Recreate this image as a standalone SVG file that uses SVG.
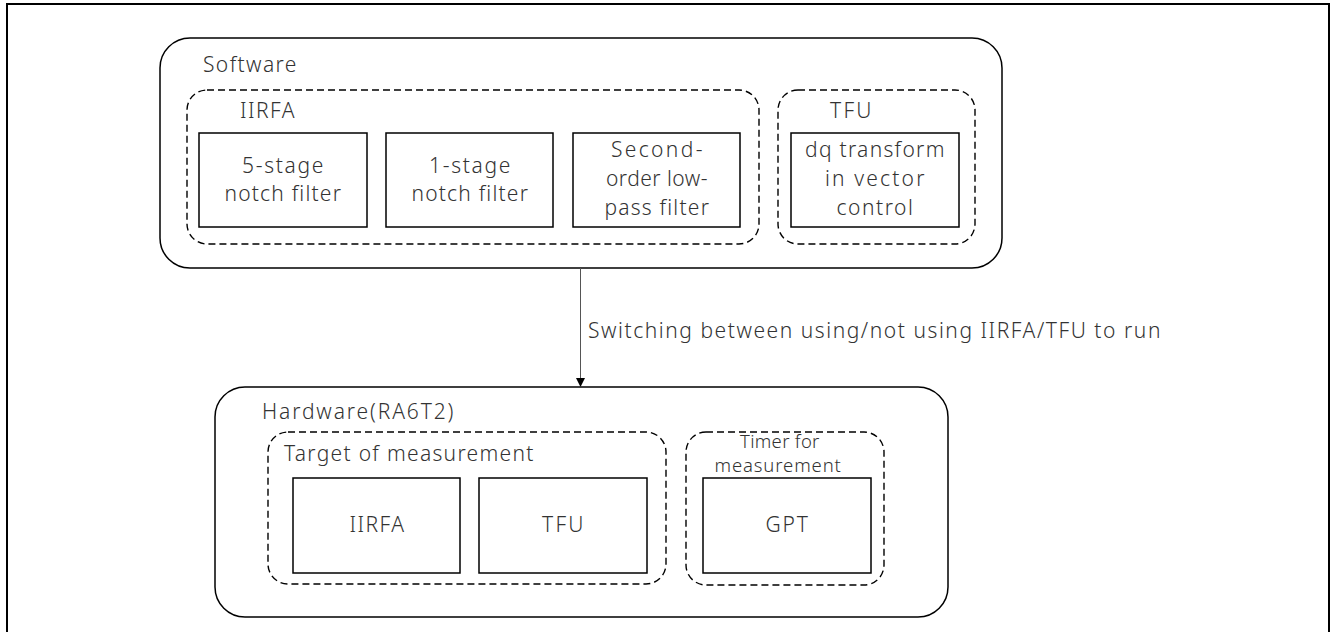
<svg xmlns="http://www.w3.org/2000/svg" width="1330" height="632" viewBox="0 0 1330 632">
<defs>
<style>
.frame{fill:none;stroke:#000;stroke-width:2}
.outer{fill:#fff;stroke:#000;stroke-width:1.5}
.dash{fill:none;stroke:#000;stroke-width:1.4;stroke-dasharray:7 4}
.box{fill:#fff;stroke:#000;stroke-width:1.5}
text{font-family:"Noto Sans","DejaVu Sans",sans-serif;fill:#333;font-weight:300;letter-spacing:0.6px}
.t20{font-size:21px}
.t17{font-size:18.5px}
.c{text-anchor:middle}
.conn{stroke:#555;stroke-width:1;fill:none}
</style>
<marker id="arrow" viewBox="0 0 10 10" refX="10" refY="5" markerWidth="9" markerHeight="9" markerUnits="userSpaceOnUse" orient="auto">
<path d="M0,0 L10,5 L0,10 z" fill="#000"/>
</marker>
</defs>
<rect width="1330" height="632" fill="#fff"/>
<path class="frame" d="M7,632 V4 H1329 V632"/>

<g id="software">
<rect class="outer" x="160" y="38" width="842" height="230" rx="30"/>
<text class="t20" x="203" y="72" textLength="94" lengthAdjust="spacing">Software</text>
</g>
<g id="iirfa-sw">
<rect class="dash" x="187" y="90" width="572" height="154" rx="20"/>
<text class="t20" x="240" y="118" textLength="55" lengthAdjust="spacing">IIRFA</text>
</g>
<g id="notch5">
<rect class="box" x="199" y="133" width="168" height="94"/>
<text class="t20 c" x="283" y="173" textLength="82" lengthAdjust="spacing">5-stage</text>
<text class="t20 c" x="283" y="201" textLength="117" lengthAdjust="spacing">notch filter</text>
</g>
<g id="notch1">
<rect class="box" x="386" y="133" width="167" height="94"/>
<text class="t20 c" x="470" y="173" textLength="82" lengthAdjust="spacing">1-stage</text>
<text class="t20 c" x="470" y="201" textLength="117" lengthAdjust="spacing">notch filter</text>
</g>
<g id="lpf">
<rect class="box" x="573" y="133" width="167" height="94"/>
<text class="t20 c" x="657" y="157" textLength="92" lengthAdjust="spacing">Second-</text>
<text class="t20 c" x="657" y="186" textLength="102" lengthAdjust="spacing">order low-</text>
<text class="t20 c" x="657" y="215" textLength="105" lengthAdjust="spacing">pass filter</text>
</g>
<g id="tfu-sw">
<rect class="dash" x="778" y="90" width="197" height="154" rx="20"/>
<text class="t20" x="830" y="118" textLength="42" lengthAdjust="spacing">TFU</text>
</g>
<g id="dq">
<rect class="box" x="791" y="133" width="168" height="94"/>
<text class="t20 c" x="875" y="157" textLength="140" lengthAdjust="spacing">dq transform</text>
<text class="t20 c" x="875" y="186" textLength="100" lengthAdjust="spacing">in vector</text>
<text class="t20 c" x="875" y="215" textLength="77" lengthAdjust="spacing">control</text>
</g>

<g id="hardware">
<rect class="outer" x="215" y="387" width="733" height="230" rx="30"/>
<text class="t20" x="262" y="419" textLength="192" lengthAdjust="spacing">Hardware(RA6T2)</text>
</g>
<g id="target">
<rect class="dash" x="268" y="432" width="398" height="152" rx="20"/>
<text class="t20" x="284" y="461" textLength="250" lengthAdjust="spacing">Target of measurement</text>
</g>
<g id="iirfa-hw">
<rect class="box" x="293" y="478" width="167" height="95"/>
<text class="t20 c" x="377" y="532" textLength="55" lengthAdjust="spacing">IIRFA</text>
</g>
<g id="tfu-hw">
<rect class="box" x="479" y="478" width="168" height="95"/>
<text class="t20 c" x="563" y="532" textLength="42" lengthAdjust="spacing">TFU</text>
</g>
<g id="timer">
<rect class="dash" x="686" y="432" width="198" height="153" rx="20"/>
<text class="t17 c" x="780" y="448" textLength="80" lengthAdjust="spacing">Timer for</text>
<text class="t17 c" x="778" y="472" textLength="127" lengthAdjust="spacing">measurement</text>
</g>
<g id="gpt">
<rect class="box" x="703" y="478" width="168" height="95"/>
<text class="t20 c" x="787" y="532" textLength="43" lengthAdjust="spacing">GPT</text>
</g>

<g id="connectors">
<line class="conn" x1="580.5" y1="268" x2="580.5" y2="387" marker-end="url(#arrow)"/>
<text class="t20" x="588" y="338" textLength="573" lengthAdjust="spacing">Switching between using/not using IIRFA/TFU to run</text>
</g>
</svg>
